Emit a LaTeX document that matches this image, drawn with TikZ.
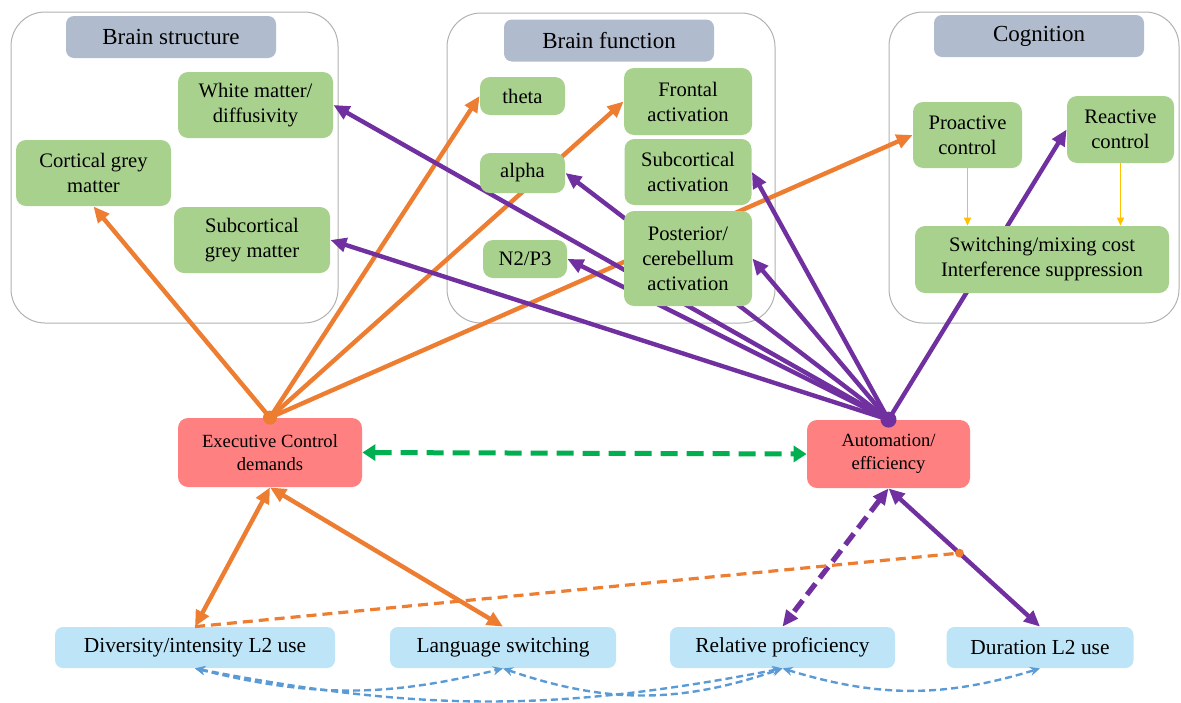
\documentclass[tikz,border=0pt]{standalone}
\usepackage{fontspec}
\setmainfont{Liberation Serif}
\usetikzlibrary{arrows.meta,backgrounds,positioning,calc}

\definecolor{boxgreen}{RGB}{169,209,142}
\definecolor{boxred}{RGB}{255,128,128}
\definecolor{boxblue}{RGB}{189,229,247}
\definecolor{hdrgrey}{RGB}{176,188,206}
\definecolor{lineorange}{RGB}{237,125,49}
\definecolor{linepurple}{RGB}{112,48,160}
\definecolor{linegreen}{RGB}{0,176,80}
\definecolor{lineblue}{RGB}{91,155,213}
\definecolor{lineyellow}{RGB}{255,192,0}

\begin{document}
\begin{tikzpicture}[
    x=0.5pt,y=-0.5pt,on grid,>={Triangle[length=8pt,width=7pt]},
    panel/.style={rectangle,draw=black!30,fill=white,rounded corners=17pt,line width=0.5pt},
    header/.style={rectangle,fill=hdrgrey,rounded corners=4pt,
        minimum width=105pt,minimum height=21pt,font=\fontsize{11.5}{13}\selectfont},
    green box/.style={rectangle,fill=boxgreen,rounded corners=5pt,inner sep=0pt,
        align=center,font=\fontsize{10.3}{12.5}\selectfont},
    red box/.style={rectangle,fill=boxred,rounded corners=5pt,inner sep=0pt,
        align=center,font=\fontsize{9.3}{11.5}\selectfont},
    blue box/.style={rectangle,fill=boxblue,rounded corners=4pt,inner sep=0pt,
        minimum height=20.5pt,font=\fontsize{10.7}{12.5}\selectfont},
    size/.style 2 args={minimum width=#1,minimum height=#2},
    orange arrow/.style={->,draw=lineorange,line width=2.2pt},
    purple arrow/.style={->,draw=linepurple,line width=2.2pt},
    yellow arrow/.style={-{Triangle[length=4pt,width=3.5pt]},draw=lineyellow,line width=0.7pt},
    blue curve/.style={{Stealth[length=5pt,width=4.5pt]}-{Stealth[length=5pt,width=4.5pt]},
        draw=lineblue,line width=1.2pt,dash pattern=on 3.5pt off 2pt}
]
 \useasboundingbox (0,0) rectangle (1181,702);

 % headers
 \node[header] (hstruct) at (171,37) {Brain structure};
 \node[header] (hfunc) at (609,40.5) {Brain function};
 \node[header] (hcogn) at (1039,36) {Cognition};

 % brain structure
 \node[green box,size={77.5pt}{33pt}] (wm) at (255.5,105) {White matter/\\diffusivity};
 \node[green box,size={77.5pt}{33pt}] (cgm) at (93.5,173) {Cortical grey\\matter};
 \node[green box,size={78pt}{33pt}] (sgm) at (252,240) {Subcortical\\grey matter};

 % brain function
 \node[green box,size={42.5pt}{19pt}] (theta) at (522.5,96) {theta};
 \node[green box,size={42.5pt}{20pt}] (alpha) [below=38.5pt of theta] {alpha};
 \node[green box,size={42pt}{19pt}] (n2p3) at (525,259) {N2/P3};
 \node[green box,size={64pt}{33.5pt}] (frontal) at (688,101.5) {Frontal\\activation};
 \node[green box,size={63.5pt}{33pt}] (subact) [below=35.25pt of frontal] {Subcortical\\activation};
 \node[green box,size={64pt}{47.5pt}] (post) [below=43.25pt of subact] {Posterior/\\cerebellum\\activation};

 % cognition
 \node[green box,size={54.5pt}{33pt}] (proact) at (967.5,135) {Proactive\\control};
 \node[green box,size={53.5pt}{33.5pt}] (react) at (1120.5,129.5) {Reactive\\control};
 \node[green box,size={127pt}{33.5pt}] (switch) at (1042,259.5) {Switching/mixing cost\\Interference suppression};

 % middle row
 \node[red box,size={92pt}{34.5pt}] (exec) at (270,452.5) {Executive Control\\demands};
 \node[red box,size={81.5pt}{34pt}] (auto) at (888.5,454) {Automation/\\efficiency};

 % bottom row
 \node[blue box,minimum width=140pt] (div) at (195,647.5) {Diversity/intensity L2 use};
 \node[blue box,minimum width=113pt] (lang) [right=154pt of div] {Language switching};
 \node[blue box,minimum width=112.5pt] (rel) [right=139.75pt of lang] {Relative proficiency};
 \node[blue box,minimum width=93.5pt] (dur) [right=128.75pt of rel] {Duration L2 use};

 \begin{scope}[on background layer]
    \node[panel,size={163.5pt}{155.5pt}] (pstruct) at (174.5,167.5) {};
    \node[panel,size={164pt}{155pt}] (pfunc) at (611,168) {};
    \node[panel,size={145pt}{155.5pt}] (pcogn) at (1034,167.5) {};

    \draw[orange arrow] (exec.north) -- (cgm.south);
    \draw[orange arrow] (exec.north) -- (theta.west);
    \draw[orange arrow] (exec.north) -- (frontal.west);
    \draw[orange arrow] (exec.north) -- (proact.west);

    \draw[purple arrow] (auto.north) -- (wm.east);
    \draw[purple arrow] (auto.north) -- (sgm.east);
    \draw[purple arrow] (auto.north) -- (alpha.east);
    \draw[purple arrow] (auto.north) -- (n2p3.east);
    \draw[purple arrow] (auto.north) -- (subact.east);
    \draw[purple arrow] (auto.north) -- (post.east);
    \draw[purple arrow] (auto.north) -- (react.west);
 \end{scope}

 \fill[lineorange] (exec.north) circle (3.5pt);
 \fill[linepurple] (auto.north) circle (4pt);

 \draw[yellow arrow] (proact.south) -- (proact.south |- switch.north);
 \draw[yellow arrow] (react.south) -- (react.south |- switch.north);

 \draw[<->,draw=linegreen,line width=2.5pt,dash pattern=on 8.5pt off 4.5pt,
    >={Triangle[length=6.5pt,width=8pt]}] (exec.east) -- (auto.west);

 \draw[orange arrow,<->] (exec.south) -- (div.north);
 \draw[orange arrow,<->] (exec.south) -- (lang.north);
 \draw[purple arrow,<->,line width=2.6pt,dash pattern=on 7pt off 3.5pt] (auto.south) -- (rel.north);
 \draw[purple arrow,<->] (auto.south) -- (dur.north);

 \coordinate (odot) at ($(auto.south)!0.468!(dur.north)$);
 \draw[draw=lineorange,line width=1.6pt,dash pattern=on 5pt off 3pt] (div.north) -- (odot);
 \fill[lineorange] (odot) circle (2.2pt);

 \draw[blue curve] (div.south) to[bend right=14] (lang.south);
 \draw[blue curve] (div.south) to[bend right=11] (rel.south);
 \draw[blue curve] (lang.south) to[bend right=19] (rel.south);
 \draw[blue curve] (rel.south) to[bend right=17] (dur.south);
\end{tikzpicture}
\end{document}
